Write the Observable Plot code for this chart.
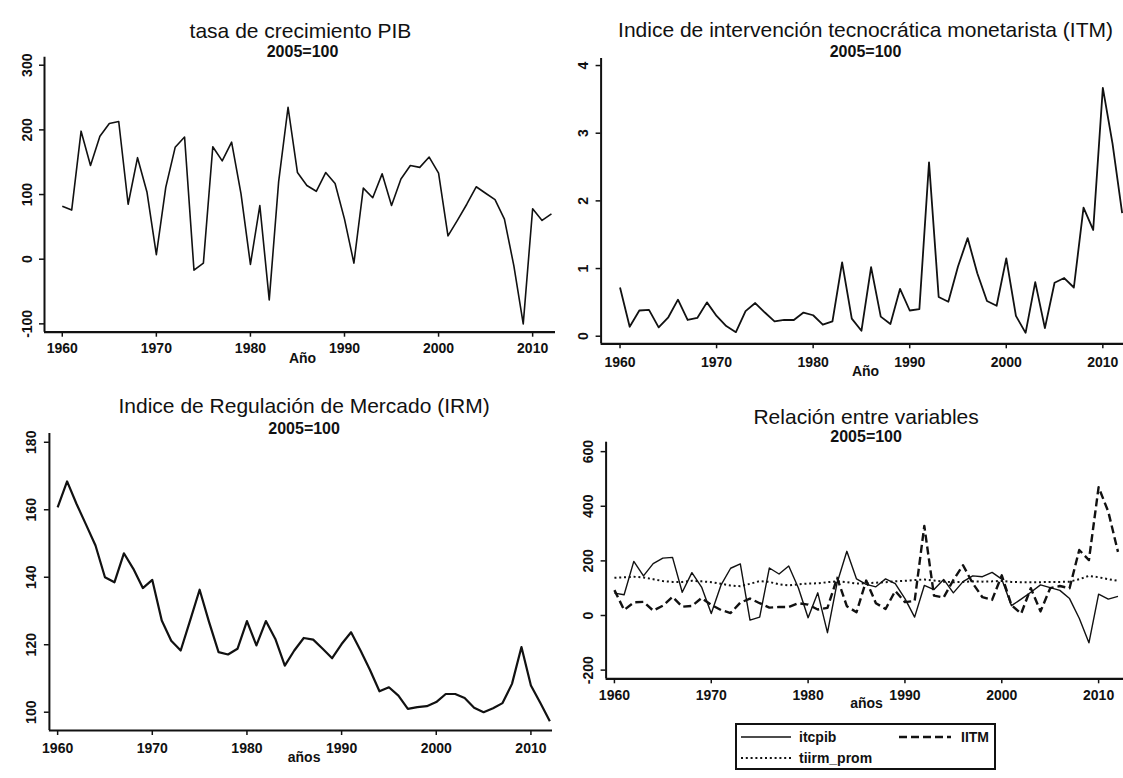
<!DOCTYPE html>
<html>
<head>
<meta charset="utf-8">
<script src="https://cdn.jsdelivr.net/npm/d3@7"></script>
<script src="https://cdn.jsdelivr.net/npm/@observablehq/plot@0.6"></script>
<style>
  body { margin: 0; background: #fff; }
  #chart { position: relative; width: 1123px; height: 778px; overflow: hidden;
           font-family: "Liberation Sans", Arial, Helvetica, sans-serif; color: #111; background: #fff; }
  #chart svg { position: absolute; }
  .legend { position: absolute; left: 735px; top: 723px; width: 261px; height: 47px;
            border: 2px solid #111; box-sizing: border-box; background: #fff; }
  .legend svg { position: absolute; left: 0; top: 0; }
  .legend span { position: absolute; font-size: 14px; font-weight: bold; line-height: 16px; }
</style>
</head>
<body>
<div id="chart"></div>
<script>
// Years 1960–2012
const years = [
  1960, 1961, 1962, 1963, 1964, 1965, 1966, 1967, 1968, 1969,
  1970, 1971, 1972, 1973, 1974, 1975, 1976, 1977, 1978, 1979,
  1980, 1981, 1982, 1983, 1984, 1985, 1986, 1987, 1988, 1989,
  1990, 1991, 1992, 1993, 1994, 1995, 1996, 1997, 1998, 1999,
  2000, 2001, 2002, 2003, 2004, 2005, 2006, 2007, 2008, 2009,
  2010, 2011, 2012
];

// Tasa de crecimiento del PIB (itcpib), 2005=100
const itcpib = [
  82, 76, 198, 145, 190, 210, 213, 85, 157, 104,
  7, 111, 173, 189, -17, -6, 174, 152, 181, 101,
  -8, 83, -63, 120, 235, 134, 114, 105, 134, 117,
  62, -6, 110, 95, 132, 83, 124, 145, 142, 158,
  133, 36, 60, 85, 112, 102, 92, 62, -10, -100,
  78, 60, 70
];

// Índice de intervención tecnocrática monetarista (ITM)
const itm = [
  0.72, 0.14, 0.38, 0.39, 0.13, 0.28, 0.54, 0.24, 0.27, 0.50,
  0.30, 0.15, 0.06, 0.37, 0.49, 0.35, 0.22, 0.24, 0.24, 0.35,
  0.31, 0.17, 0.22, 1.09, 0.26, 0.08, 1.02, 0.29, 0.18, 0.70,
  0.38, 0.40, 2.57, 0.58, 0.51, 1.03, 1.45, 0.93, 0.52, 0.45,
  1.15, 0.30, 0.05, 0.80, 0.12, 0.79, 0.86, 0.72, 1.90, 1.57,
  3.67, 2.85, 1.82
];

// Índice de Regulación de Mercado (IRM)
const irm = [
  160.7, 168.4, 161.7, 155.6, 149.4, 140.0, 138.5, 147.1, 142.5, 136.8,
  139.2, 127.2, 121.2, 118.3, 127.2, 136.3, 126.7, 117.8, 117.1, 118.8,
  127.0, 119.8, 127.0, 121.7, 113.8, 118.3, 122.0, 121.5, 118.8, 116.0,
  120.2, 123.7, 118.3, 112.5, 106.2, 107.4, 104.9, 101.0, 101.5, 101.8,
  103.0, 105.4, 105.4, 104.2, 101.3, 100.0, 101.2, 102.7, 108.4, 119.3,
  107.9, 102.7, 97.3
];

// IITM (ITM indexed)
const iitm = [
  93, 20, 48, 50, 18, 36, 68, 32, 35, 64,
  39, 20, 9, 47, 62, 45, 29, 31, 31, 45,
  40, 22, 28, 138, 34, 12, 128, 45, 24, 90,
  49, 53, 328, 73, 66, 130, 184, 118, 67, 57,
  147, 38, 7, 100, 15, 100, 108, 100, 240, 203,
  470, 380, 233
];

// tiirm_prom
const tiirmProm = [
  138, 140, 142, 139, 133, 126, 123, 123, 127, 125,
  122, 116, 110, 107, 116, 126, 123, 114, 110, 114,
  117, 118, 122, 125, 122, 117, 118, 120, 122, 125,
  127, 130, 132, 128, 124, 122, 123, 125, 124, 125,
  127, 123, 122, 122, 122, 123, 123, 124, 133, 145,
  140, 133, 127
];

const xTicks = [1960, 1970, 1980, 1990, 2000, 2010];
const subtitleText = "2005=100";
const legendLabels = ["itcpib", "IITM", "tiirm_prom"];

const FONT = '"Liberation Sans", Arial, Helvetica, sans-serif';
const INK = "#111";
const DOTS = "2,2.8";
const DASHES = "8,4";

const rows = (vals) => years.map((year, i) => ({year, value: vals[i]}));

// One small-multiple panel; positions of titles are given in page coordinates
function panel(cfg) {
  const {left, top, width, height, mLeft, mTop, mRight, mBottom,
         xDomain, yDomain, yTicks, series, title, subtitle, xLabel,
         titlePos, subPos, labelPos, xPad} = cfg;
  const cx = left + (mLeft + width - mRight) / 2;   // frame centre (page x)
  const fTop = top + mTop;                           // frame top (page y)
  const fBot = top + height - mBottom;               // frame bottom (page y)
  const svg = Plot.plot({
    width, height,
    marginLeft: mLeft, marginTop: mTop, marginRight: mRight, marginBottom: mBottom,
    style: {fontFamily: FONT, fontSize: "14px", fontWeight: "bold", color: INK,
            background: "transparent", overflow: "visible"},
    x: {domain: xDomain},
    y: {domain: yDomain},
    marks: [
      Plot.ruleX([xDomain[0]], {stroke: INK, strokeWidth: 2}),
      Plot.ruleY([yDomain[0]], {stroke: INK, strokeWidth: 2.2}),
      Plot.axisX({ticks: xTicks, tickFormat: d => String(d), tickSize: 5,
                  tickPadding: xPad, label: null, strokeWidth: 1.5}),
      Plot.axisY({ticks: yTicks, tickFormat: d => String(d), tickRotate: -90,
                  tickSize: 5, tickPadding: 8, label: null, strokeWidth: 1.5}),
      ...series.map(s => Plot.line(rows(s.values), {
        x: "year", y: "value", stroke: INK, strokeWidth: s.width,
        strokeDasharray: s.dash, strokeLinejoin: "round", strokeLinecap: "butt"
      })),
      Plot.text([title], {text: d => d, frameAnchor: "top",
        dx: titlePos[0] - cx, dy: titlePos[1] - fTop,
        fontSize: 21, fontWeight: "normal", fill: INK}),
      Plot.text([subtitle], {text: d => d, frameAnchor: "top",
        dx: subPos[0] - cx, dy: subPos[1] - fTop,
        fontSize: 16, fontWeight: "bold", fill: INK}),
      Plot.text([xLabel], {text: d => d, frameAnchor: "bottom",
        dx: labelPos[0] - cx, dy: labelPos[1] - fBot,
        fontSize: 14, fontWeight: "bold", fill: INK})
    ]
  });
  svg.style.left = left + "px";
  svg.style.top = top + "px";
  return svg;
}

const chart = document.getElementById("chart");

chart.appendChild(panel({
  left: 0, top: 0, width: 560, height: 390,
  mLeft: 44, mTop: 56.7, mRight: 5, mBottom: 58.3,
  xDomain: [1958.11, 2012.43], yDomain: [-112.9, 312.4],
  yTicks: [-100, 0, 100, 200, 300], xPad: 6,
  series: [{values: itcpib, width: 1.6}],
  title: "tasa de crecimiento PIB", subtitle: subtitleText, xLabel: "Año",
  titlePos: [300, 23], subPos: [302, 45], labelPos: [302, 362]
}));

chart.appendChild(panel({
  left: 560, top: 0, width: 563, height: 390,
  mLeft: 40.6, mTop: 58, mRight: 0, mBottom: 46.7,
  xDomain: [1958.04, 2012.14], yDomain: [-0.112, 4.104],
  yTicks: [0, 1, 2, 3, 4], xPad: 8,
  series: [{values: itm, width: 1.8}],
  title: "Indice de intervención tecnocrática monetarista (ITM)", subtitle: subtitleText, xLabel: "Año",
  titlePos: [865, 21.7], subPos: [865, 45], labelPos: [865, 375]
}));

chart.appendChild(panel({
  left: 0, top: 380, width: 560, height: 398,
  mLeft: 48.9, mTop: 53, mRight: 8, mBottom: 48,
  xDomain: [1959.13, 2012.28], yDomain: [94.58, 182.6],
  yTicks: [100, 120, 140, 160, 180], xPad: 8,
  series: [{values: irm, width: 2.2}],
  title: "Indice de Regulación de Mercado (IRM)", subtitle: subtitleText, xLabel: "años",
  titlePos: [303.6, 398], subPos: [303.6, 421.7], labelPos: [303.6, 761.7]
}));

chart.appendChild(panel({
  left: 560, top: 380, width: 563, height: 398,
  mLeft: 45.6, mTop: 61.7, mRight: 0, mBottom: 99.7,
  xDomain: [1959.14, 2012.57], yDomain: [-231.8, 634.6],
  yTicks: [-200, 0, 200, 400, 600], xPad: 6.5,
  series: [
    {values: itcpib, width: 1.4},
    {values: tiirmProm, width: 2, dash: DOTS},
    {values: iitm, width: 2.4, dash: DASHES}
  ],
  title: "Relación entre variables", subtitle: subtitleText, xLabel: "años",
  titlePos: [865.6, 408.3], subPos: [865.6, 430], labelPos: [866, 707.5]
}));

// Legend box under the last panel
const legend = document.createElement("div");
legend.className = "legend";
legend.innerHTML = `
  <svg width="261" height="47">
    <line x1="4" x2="54" y1="12" y2="12" stroke="${INK}" stroke-width="1.4"/>
    <line x1="162" x2="214" y1="12" y2="12" stroke="${INK}" stroke-width="2.4" stroke-dasharray="${DASHES}"/>
    <line x1="4" x2="54" y1="33" y2="33" stroke="${INK}" stroke-width="2" stroke-dasharray="${DOTS}"/>
  </svg>
  <span style="left:62px;top:4px">${legendLabels[0]}</span>
  <span style="left:224px;top:4px">${legendLabels[1]}</span>
  <span style="left:62px;top:25px">${legendLabels[2]}</span>`;
chart.appendChild(legend);
</script>
</body>
</html>
